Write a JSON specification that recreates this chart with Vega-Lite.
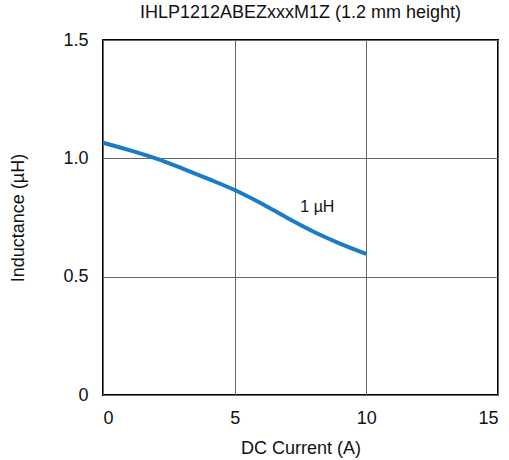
{
  "$schema": "https://vega.github.io/schema/vega-lite/v6.json",
  "autosize": "none",
  "width": 395,
  "height": 355,
  "padding": {"left": 103, "top": 40, "right": 11, "bottom": 65},
  "background": "white",
  "title": {"text": "IHLP1212ABEZxxxM1Z (1.2 mm height)", "font": "Liberation Sans", "fontSize": 18, "fontWeight": "normal", "color": "#111111", "anchor": "middle", "offset": 9},
  "config": {
    "view": {"stroke": "black", "strokeWidth": 2},
    "axis": {"labelFont": "Liberation Sans", "titleFont": "Liberation Sans", "labelFontSize": 18, "titleFontSize": 18, "titleFontWeight": "normal", "labelColor": "#111111", "titleColor": "#111111", "domain": false, "ticks": false, "grid": true, "gridColor": "#666666", "gridWidth": 1, "gridOpacity": 1}
  },
  "datasets": {
    "curve": [
      {"current": 0, "inductance": 1.066},
      {"current": 1, "inductance": 1.035},
      {"current": 2, "inductance": 1.0},
      {"current": 3, "inductance": 0.958},
      {"current": 4, "inductance": 0.913},
      {"current": 5, "inductance": 0.866},
      {"current": 6, "inductance": 0.81},
      {"current": 7, "inductance": 0.748},
      {"current": 8, "inductance": 0.69},
      {"current": 9, "inductance": 0.64},
      {"current": 10, "inductance": 0.596}
    ],
    "labels": [{"current": 8.14, "inductance": 0.794, "text": "1 µH"}]
  },
  "layer": [
    {
      "data": {"name": "curve"},
      "mark": {"type": "line", "color": "#1a7cc6", "strokeWidth": 4, "interpolate": "monotone"},
      "encoding": {
        "x": {"field": "current", "type": "quantitative", "scale": {"domain": [0, 15], "nice": false}, "axis": {"values": [0, 5, 10, 15], "title": "DC Current (A)", "labelPadding": 14, "titlePadding": 12}},
        "y": {"field": "inductance", "type": "quantitative", "scale": {"domain": [0, 1.5], "nice": false}, "axis": {"values": [0, 0.5, 1, 1.5], "title": "Inductance (µH)", "labelPadding": 15, "titlePadding": 35, "labelExpr": "datum.value == 0 ? '0' : format(datum.value, '.1f')"}}
      }
    },
    {
      "data": {"name": "labels"},
      "mark": {"type": "text", "font": "Liberation Sans", "fontSize": 16, "color": "#111111"},
      "encoding": {
        "x": {"field": "current", "type": "quantitative"},
        "y": {"field": "inductance", "type": "quantitative"},
        "text": {"field": "text"}
      }
    }
  ]
}
